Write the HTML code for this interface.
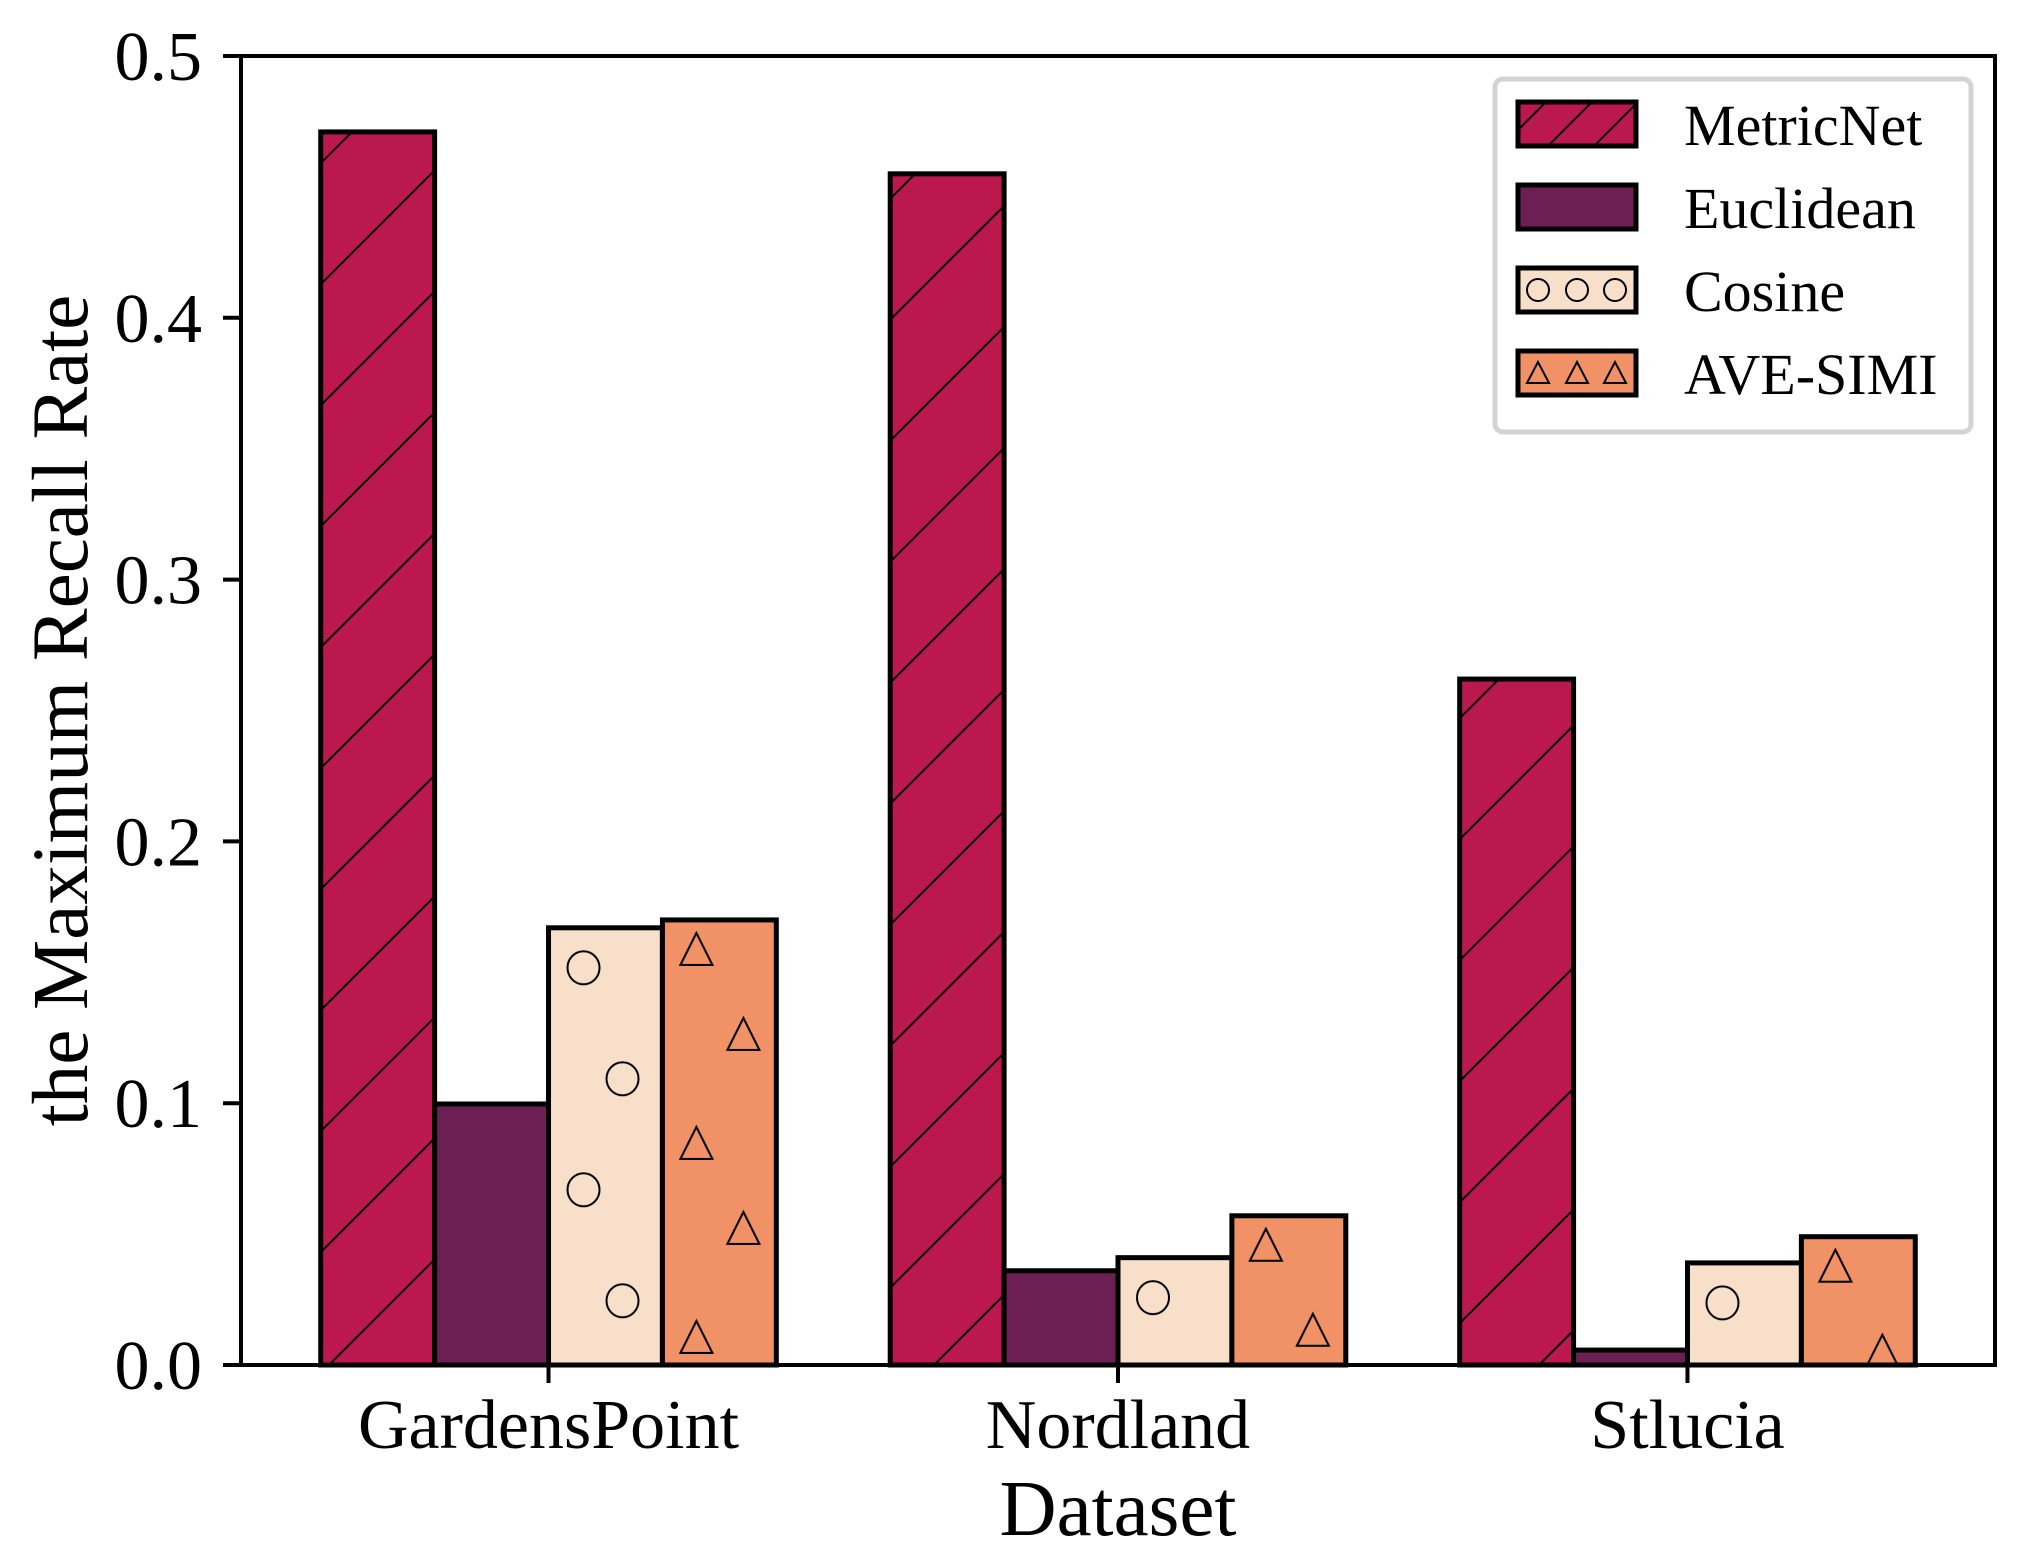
<!DOCTYPE html>
<html><head><meta charset="utf-8"><style>
html,body{margin:0;padding:0;background:#fff;}
svg{display:block;font-family:"Liberation Serif","DejaVu Serif",serif;}
</style></head><body>
<svg id="chart" width="2018" height="1553" viewBox="0 0 2018 1553">
<defs id="defs"></defs>
<g id="plot"></g>
</svg>
<script>
const categories = ["GardensPoint", "Nordland", "Stlucia"];
const seriesNames = ["MetricNet", "Euclidean", "Cosine", "AVE-SIMI"];
const metricNet = [0.471, 0.455, 0.262];
const euclidean = [0.0997, 0.036, 0.0057];
const cosine = [0.167, 0.041, 0.039];
const aveSimi = [0.170, 0.057, 0.049];
const yTicks = [0.0, 0.1, 0.2, 0.3, 0.4, 0.5];
const yTickLabels = ["0.0", "0.1", "0.2", "0.3", "0.4", "0.5"];

const NS = "http://www.w3.org/2000/svg";
const svg = document.getElementById("chart");
const defs = document.getElementById("defs");
const plot = document.getElementById("plot");
const L = 241, R = 1995, T = 56, B = 1365;
const xMin = -0.54, xMax = 2.54, yMin = 0, yMax = 0.5;
const xs = v => L + (v - xMin) / (xMax - xMin) * (R - L);
const ys = v => B - (v - yMin) / (yMax - yMin) * (B - T);
const colors = ["#bb1850", "#6b1f53", "#f8dfc9", "#f09266"];
const hatches = ["slash", "none", "circle", "triangle"];
const allSeries = [metricNet, euclidean, cosine, aveSimi];
const barW = 0.2;

function el(tag, attrs, parent) {
  const e = document.createElementNS(NS, tag);
  for (const k in attrs) e.setAttribute(k, attrs[k]);
  (parent || plot).appendChild(e);
  return e;
}
function makePattern(id, type, color, x0, top) {
  const p = el("pattern", {id: id, patternUnits: "userSpaceOnUse"}, defs);
  if (type === "slash") {
    p.setAttribute("width", 121); p.setAttribute("height", 121);
    el("rect", {x: 0, y: 0, width: 121, height: 121, fill: color}, p);
    el("path", {d: "M-5,126 L126,-5 M-10,10 L10,-10 M111,131 L131,111", stroke: "#000", "stroke-width": 2}, p);
  } else if (type === "circle") {
    p.setAttribute("width", 114); p.setAttribute("height", 222);
    p.setAttribute("patternTransform", "translate(" + x0 + "," + top + ")");
    el("rect", {x: 0, y: 0, width: 114, height: 222, fill: color}, p);
    el("ellipse", {cx: 35, cy: 40, rx: 16, ry: 16.5, fill: "none", stroke: "#000", "stroke-width": 2}, p);
    el("ellipse", {cx: 74, cy: 151, rx: 16, ry: 16.5, fill: "none", stroke: "#000", "stroke-width": 2}, p);
  } else if (type === "triangle") {
    p.setAttribute("width", 114); p.setAttribute("height", 194);
    p.setAttribute("patternTransform", "translate(" + x0 + "," + top + ")");
    el("rect", {x: 0, y: 0, width: 114, height: 194, fill: color}, p);
    const tri = (cx, cy) => "M" + (cx - 16) + "," + (cy + 15) + " L" + cx + "," + (cy - 17) + " L" + (cx + 16) + "," + (cy + 15) + " Z";
    el("path", {d: tri(34, 30), fill: "none", stroke: "#000", "stroke-width": 2}, p);
    el("path", {d: tri(81, 115), fill: "none", stroke: "#000", "stroke-width": 2}, p);
  }
  return "url(#" + id + ")";
}

// bars
allSeries.forEach((vals, s) => {
  vals.forEach((v, i) => {
    const cx = i + (s - 1.5) * barW;
    const x0 = xs(cx - barW / 2), x1 = xs(cx + barW / 2);
    const yTop = ys(v), y0 = ys(0);
    let fill = colors[s];
    if (hatches[s] !== "none") fill = makePattern("pat" + s + "_" + i, hatches[s], colors[s], x0, yTop);
    const r = el("rect", {x: x0, y: yTop, width: x1 - x0, height: y0 - yTop, fill: fill, stroke: "#000", "stroke-width": 5});
    
    
  });
});

// spines
const frame = el("rect", {x: L, y: T, width: R - L, height: B - T, fill: "none", stroke: "#000", "stroke-width": 4});



// y ticks
yTicks.forEach((t, i) => {
  const y = ys(t);
  el("line", {x1: L - 18, x2: L, y1: y, y2: y, stroke: "#000", "stroke-width": 4});
  const tx = el("text", {x: 202, y: y + 24, "text-anchor": "end", "font-size": 70});
  tx.textContent = yTickLabels[i];
  
  
});
// x ticks
categories.forEach((c, i) => {
  const x = xs(i);
  el("line", {x1: x, x2: x, y1: B, y2: B + 18, stroke: "#000", "stroke-width": 4});
  const tx = el("text", {x: x, y: 1448, "text-anchor": "middle", "font-size": 70});
  tx.textContent = c;
  
  
});

const xt = el("text", {x: xs(1), y: 1535, "text-anchor": "middle", "font-size": 79});
xt.textContent = "Dataset";


const yt = el("text", {x: 0, y: 0, "text-anchor": "middle", "font-size": 79, transform: "translate(87," + ((T + B) / 2) + ") rotate(-90)"});
yt.textContent = "the Maximum Recall Rate";



// legend
const lg = el("g", {});


el("rect", {x: 1495, y: 79, width: 476, height: 353, rx: 8, fill: "#fff", stroke: "#d3d3d3", "stroke-width": 5}, lg);
const rowY = [102, 185, 268, 351];
seriesNames.forEach((n, s) => {
  const g = el("g", {}, lg);
  
  
  const y = rowY[s];
  let fill = colors[s];
  if (hatches[s] === "slash") {
    const p = el("pattern", {id: "lg0", patternUnits: "userSpaceOnUse", width: 46, height: 46, patternTransform: "translate(1500," + y + ")"}, defs);
    el("rect", {x: 0, y: 0, width: 46, height: 46, fill: colors[s]}, p);
    el("path", {d: "M-5,51 L51,-5", stroke: "#000", "stroke-width": 2}, p);
    fill = "url(#lg0)";
  }
  el("rect", {x: 1518, y: y, width: 118, height: 44, fill: fill, stroke: "#000", "stroke-width": 5}, g);
  [1538, 1577, 1615].forEach(cx => {
    if (hatches[s] === "circle") el("ellipse", {cx: cx, cy: y + 22, rx: 11, ry: 11, fill: "none", stroke: "#000", "stroke-width": 2}, g);
    if (hatches[s] === "triangle") el("path", {d: "M" + (cx - 11) + "," + (y + 32) + " L" + cx + "," + (y + 11) + " L" + (cx + 11) + "," + (y + 32) + " Z", fill: "none", stroke: "#000", "stroke-width": 2}, g);
  });
  const t = el("text", {x: 1684, y: y + 43, "font-size": 58}, g);
  t.textContent = n;
});
</script>
</body></html>
